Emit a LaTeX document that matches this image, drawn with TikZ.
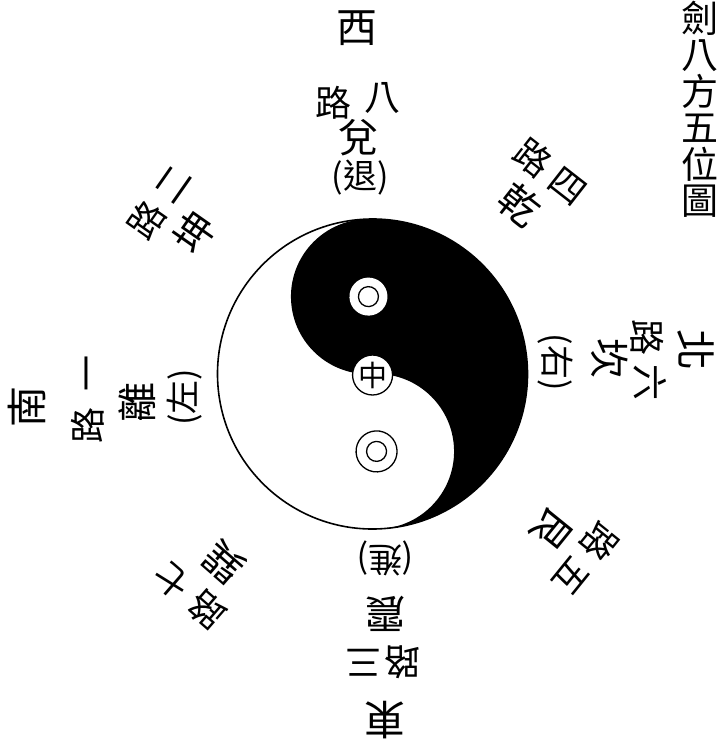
\documentclass[tikz,border=0pt]{standalone}
\usepackage{fontspec}
\newfontfamily\cjk{Noto Sans CJK TC}
\tikzset{
  glyph/.style={inner sep=0pt},
  gua/.style={glyph, text height=33.6pt, text depth=3.2pt, font=\cjk\fontsize{40}{40}\selectfont},
  lu/.style={glyph, text height=30.2pt, text depth=2.9pt, font=\cjk\fontsize{36}{36}\selectfont},
  paren/.style={glyph, text height=28.6pt, text depth=2.7pt, font=\cjk\fontsize{34}{34}\selectfont},
  fang/.style={glyph, text height=34.4pt, text depth=3.3pt, font=\cjk\fontsize{41}{41}\selectfont},
  titlechar/.style={glyph, text height=31.1pt, text depth=3pt, font=\cjk\fontsize{37}{37}\selectfont},
  zhong/.style={circle, draw, line width=1.3pt, fill=white, minimum size=40pt, inner sep=0pt,
    font=\cjk\fontsize{29}{29}\selectfont}
}
\begin{document}
\begin{tikzpicture}[x=1pt, y=-1pt]
  \useasboundingbox (0,0) rectangle (718,744);

  % ===== 標題 =====
  \foreach \ch [count=\i] in {劍,八,方,五,位,圖} {
    \node[titlechar] (title-\i) at (700, {18+36.5*(\i-1)}) {\ch};
  }

  % ===== 太極 =====
  \begin{scope}[shift={(372.5,374)}, rotate=3]
    \fill[white] (0,0) circle (155);
    \fill[black] (0,-155) arc[start angle=-90, end angle=90, radius=155]
      arc[start angle=90, end angle=-90, radius=77.5]
      arc[start angle=90, end angle=270, radius=77.5] -- cycle;
    \draw[line width=1.6pt] (0,0) circle (155);
    % 上眼
    \fill[white] (0,-77.5) circle (19);
    \draw[line width=1.3pt] (0,-77.5) circle (10);
    % 下眼
    \draw[line width=1.3pt] (0,77.5) circle (20.5);
    \draw[line width=1.3pt] (0,77.5) circle (10);
    % 中
    \node[zhong] (zhong) at (0,1) {中};
  \end{scope}

  % ===== 四正 =====
  \node[fang] (xi) at (357,27) {西};
  \node[fang, rotate=-90] (bei) at (696,350) {北};
  \node[fang, rotate=90] (nan) at (27,407) {南};
  \node[fang, rotate=180] (dong) at (385,720) {東};

  % 兌
  \begin{scope}[shift={(358,137)}, transform shape]
    \node[lu] (dui-num) at (24,-40) {八};
    \node[lu] (dui-lu) at (-25,-34) {路};
    \node[gua] (dui) at (0,0) {兌};
    \node[paren] (dui-p) at (2,39) {(退)};
  \end{scope}

  % 坎
  \begin{scope}[shift={(610,358)}, rotate=-90, transform shape]
    \node[lu] (kan-num) at (24,-40) {六};
    \node[lu] (kan-lu) at (-21,-37) {路};
    \node[gua] (kan) at (0,0) {坎};
    \node[paren] (kan-p) at (4,53) {(右)};
  \end{scope}

  % 離
  \begin{scope}[shift={(137,402)}, rotate=90, transform shape]
    \node[lu] (li-num) at (29,-50) {一};
    \node[lu] (li-lu) at (-23,-49) {路};
    \node[gua] (li) at (0,0) {離};
    \node[paren] (li-p) at (5,46) {(左)};
  \end{scope}

  % 震
  \begin{scope}[shift={(385,615)}, rotate=180, transform shape]
    \node[lu] (zhen-num) at (22,-48) {三};
    \node[lu] (zhen-lu) at (-17,-47) {路};
    \node[gua] (zhen) at (0,0) {震};
    \node[paren] (zhen-p) at (0,55) {(進)};
  \end{scope}

  % ===== 四隅 =====
  % 乾
  \begin{scope}[shift={(520,205)}, rotate=-38, transform shape]
    \node[lu] (qian-num) at (26,-45) {四};
    \node[lu] (qian-lu) at (-19,-45) {路};
    \node[gua] (qian) at (0,0) {乾};
  \end{scope}

  % 坤
  \begin{scope}[shift={(195,232)}, rotate=55, transform shape]
    \node[lu] (kun-num) at (27,-46) {二};
    \node[lu] (kun-lu) at (-18,-46) {路};
    \node[gua] (kun) at (0,0) {坤};
  \end{scope}

  % 艮
  \begin{scope}[shift={(553,530)}, rotate=-129, transform shape]
    \node[lu] (gen-num) at (25,-44) {五};
    \node[lu] (gen-lu) at (-20,-44) {路};
    \node[gua] (gen) at (0,0) {艮};
  \end{scope}

  % 巽
  \begin{scope}[shift={(223,563)}, rotate=139, transform shape]
    \node[lu] (xun-num) at (27,-46) {七};
    \node[lu] (xun-lu) at (-19,-46) {路};
    \node[gua] (xun) at (0,0) {巽};
  \end{scope}
\end{tikzpicture}
\end{document}
